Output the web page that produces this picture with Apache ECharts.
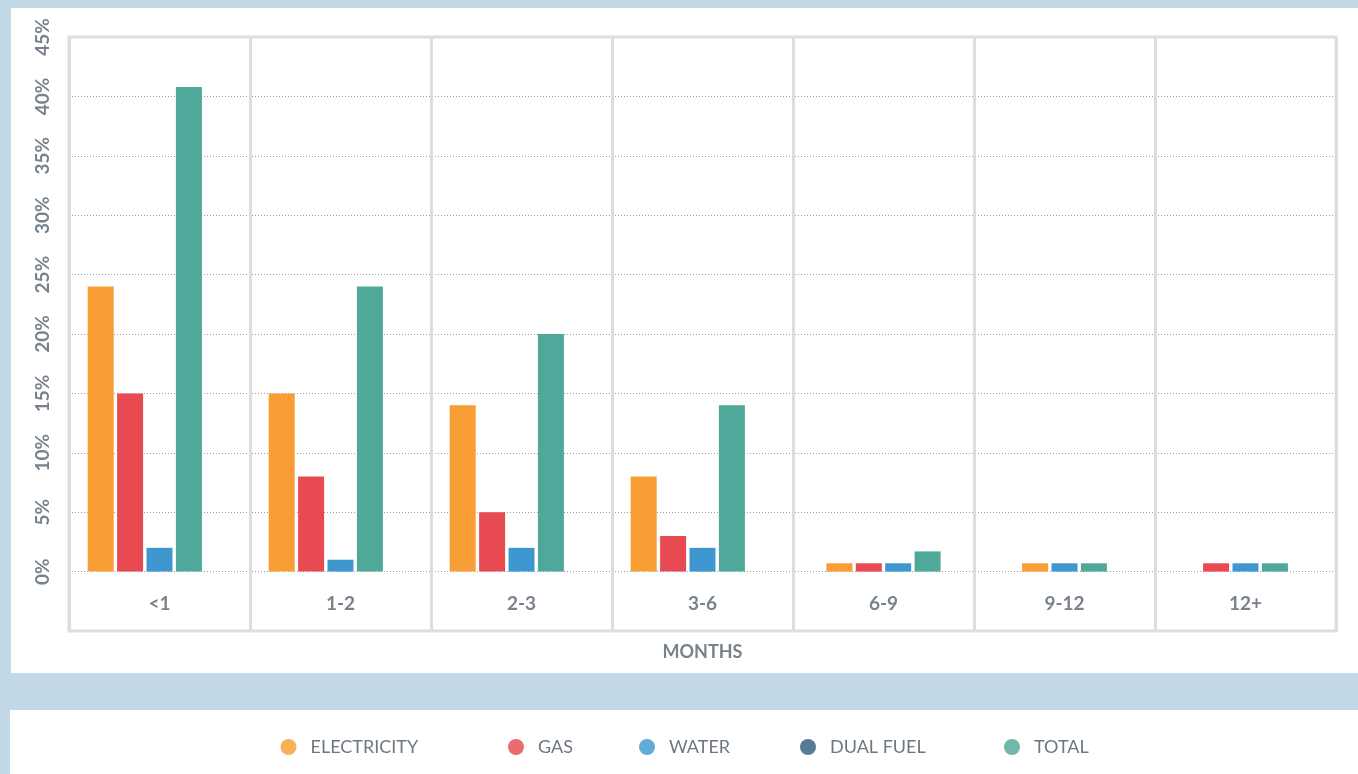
<!DOCTYPE html>
<html>
<head>
<meta charset="utf-8">
<script src="https://cdn.jsdelivr.net/npm/echarts@6/dist/echarts.min.js"></script>
<style>
  html, body { margin: 0; padding: 0; background: #c1d9e7; width: 1358px; height: 774px; overflow: hidden; }
  .panel { position: absolute; background: #ffffff; }
  #chart { position: absolute; left: 0; top: 0; width: 1358px; height: 774px; }
</style>
</head>
<body>
<div class="panel" style="left:11px;top:8px;width:1347px;height:665px;"></div>
<div class="panel" style="left:10px;top:710px;width:1348px;height:64px;"></div>
<div id="chart"></div>
<script>
// ---- data ----
var categories = ['<1', '1-2', '2-3', '3-6', '6-9', '9-12', '12+'];
var electricity = [24, 15, 14, 8, 0.7, 0.7, null];
var gas         = [15, 8, 5, 3, 0.7, null, 0.7];
var water       = [2, 1, 2, 2, 0.7, 0.7, 0.7];
var dualFuel    = [0, 0, 0, 0, null, null, null];
var total       = [40.8, 24, 20, 14, 1.7, 0.7, 0.7];
var yTicks      = [0, 5, 10, 15, 20, 25, 30, 35, 40, 45];

var seriesNames = ['ELECTRICITY', 'GAS', 'WATER', 'DUAL FUEL', 'TOTAL'];
var seriesColors = ['#f99d35', '#e84a52', '#3e98cf', '#2f5f7d', '#4fa899'];
// order in which bars occupy slots inside each month group
var slotOrder = [electricity, gas, water, total, dualFuel];

var chart = echarts.init(document.getElementById('chart'), null, { renderer: 'canvas' });

var PITCH = 29.4 / 181;
var WIDTH = 26 / 181;

function makeRender(arr) {
  return function (params, api) {
    var ci = api.value(0);
    var v = api.value(1);
    var present = [];
    for (var s = 0; s < slotOrder.length; s++) {
      if (slotOrder[s][ci] !== null && slotOrder[s][ci] !== undefined) present.push(slotOrder[s]);
    }
    var n = present.length;
    var k = present.indexOf(arr);
    var base = api.coord([ci, 0]);
    var top = api.coord([ci, v]);
    var band = api.size([1, 0])[0];
    var w = band * WIDTH;
    var cx = base[0] + (k - (n - 1) / 2) * band * PITCH;
    return {
      type: 'rect',
      shape: { x: cx - w / 2, y: top[1], width: w, height: base[1] - top[1] },
      style: { fill: api.visual('color') }
    };
  };
}

function toData(arr) {
  var out = [];
  for (var i = 0; i < arr.length; i++) {
    if (arr[i] !== null) out.push([i, arr[i]]);
  }
  return out;
}

var dataByName = {
  'ELECTRICITY': electricity,
  'GAS': gas,
  'WATER': water,
  'DUAL FUEL': dualFuel,
  'TOTAL': total
};

var series = seriesNames.map(function (name, i) {
  var arr = dataByName[name];
  return {
    name: name,
    type: 'custom',
    coordinateSystem: 'cartesian2d',
    itemStyle: { color: seriesColors[i] },
    encode: { x: 0, y: 1 },
    renderItem: makeRender(arr),
    data: toData(arr),
    z: 3
  };
});

var legendCenters = [288.5, 516, 647, 808, 1012];
var legends = seriesNames.map(function (name, i) {
  return {
    data: [name],
    left: legendCenters[i] - 8,
    top: 738,
    orient: 'horizontal',
    icon: 'circle',
    itemWidth: 16,
    itemHeight: 16,
    padding: 0,
    selectedMode: false,
    itemStyle: { opacity: 0.82 },
    textStyle: {
      fontFamily: 'Lato',
      fontSize: 18,
      color: '#6d7780',
      padding: [0, 0, 0, 9]
    }
  };
});

var option = {
  animation: false,
  backgroundColor: 'transparent',
  legend: legends,
  grid: {
    left: 69, right: 22, top: 37, bottom: 143,
    show: true,
    borderColor: '#dcdde2',
    borderWidth: 3,
    containLabel: false
  },
  xAxis: {
    type: 'category',
    data: categories,
    boundaryGap: true,
    axisLine: { show: false, onZero: false },
    axisTick: { show: false },
    axisLabel: {
      inside: true,
      margin: 18,
      fontFamily: 'Lato',
      fontWeight: 'bold',
      fontSize: 19,
      color: '#78828c'
    },
    splitLine: { show: true, interval: 0, lineStyle: { color: '#dcdde2', width: 3 } },
    name: 'MONTHS',
    nameLocation: 'middle',
    nameGap: 12,
    nameTextStyle: {
      fontFamily: 'Lato',
      fontWeight: 'bold',
      fontSize: 18,
      color: '#78828c'
    }
  },
  yAxis: {
    type: 'value',
    min: -5,
    max: 45,
    interval: 5,
    axisLine: { show: false },
    axisTick: { show: false },
    axisLabel: {
      rotate: 90,
      margin: 17,
      fontFamily: 'Lato',
      fontWeight: 'bold',
      fontSize: 19,
      color: '#78828c',
      formatter: function (v) { return yTicks.indexOf(v) >= 0 ? v + '%' : ''; }
    },
    splitLine: {
      show: true,
      showMinLine: false,
      showMaxLine: false,
      lineStyle: { color: '#9f9f9f', width: 1, type: [1, 2] }
    }
  },
  series: series
};

chart.setOption(option);
</script>
</body>
</html>
